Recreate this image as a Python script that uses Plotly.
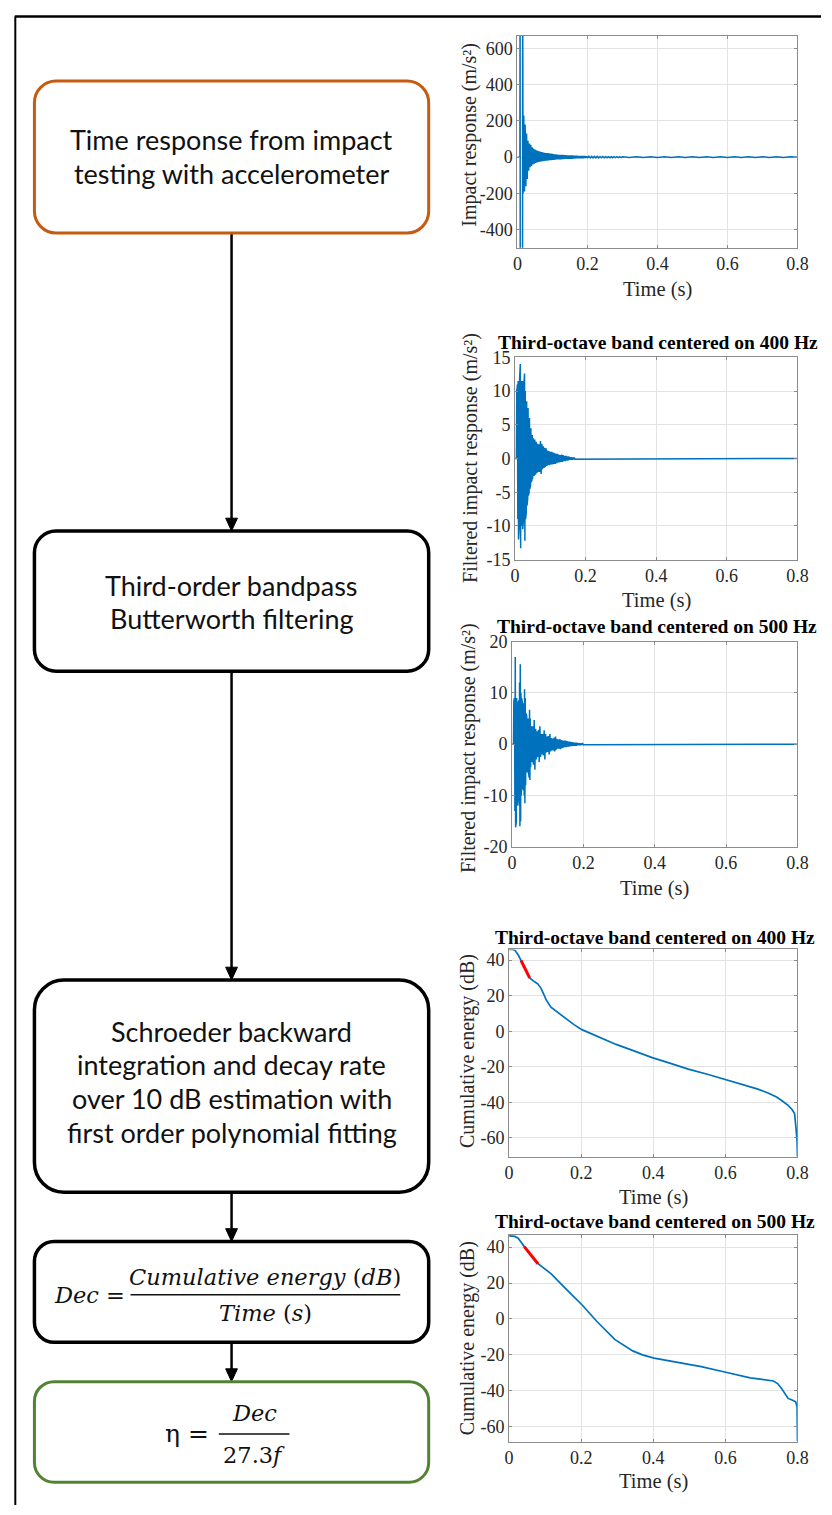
import plotly.graph_objects as go

W, H = 832, 1515

# ---------------- data ----------------
time_ticks = [0, 0.2, 0.4, 0.6, 0.8]
time_ticktext = ["0", "0.2", "0.4", "0.6", "0.8"]

# raw accelerometer response (m/s^2); the impact spike runs off the axis limits
impact_time = [
    0.000, 0.007, 0.0075, 0.008, 0.0145, 0.015, 0.0152, 0.0155,
    0.016, 0.018, 0.020, 0.022, 0.024, 0.026, 0.028, 0.030, 0.032, 0.034,
    0.036, 0.038, 0.040, 0.042, 0.044, 0.046, 0.048, 0.050, 0.052, 0.054,
    0.056, 0.058, 0.060, 0.062, 0.064, 0.066, 0.068, 0.070, 0.072, 0.074,
    0.076, 0.078, 0.080, 0.082, 0.084, 0.086, 0.088, 0.090, 0.092, 0.094,
    0.096, 0.098, 0.100, 0.102, 0.104, 0.106, 0.108, 0.110, 0.112, 0.114,
    0.116, 0.118, 0.120, 0.122, 0.124, 0.126, 0.128, 0.130, 0.132, 0.134,
    0.136, 0.138, 0.140, 0.142, 0.144, 0.146, 0.148, 0.150, 0.152, 0.154,
    0.156, 0.158, 0.160, 0.162, 0.164, 0.166, 0.168, 0.170, 0.172, 0.174,
    0.176, 0.178, 0.180, 0.182, 0.184, 0.186, 0.188, 0.190, 0.192, 0.194,
    0.196, 0.198, 0.200, 0.204, 0.208, 0.212, 0.216, 0.220, 0.224, 0.228,
    0.232, 0.236, 0.240, 0.244, 0.248, 0.252, 0.256, 0.260, 0.264, 0.268,
    0.272, 0.276, 0.280, 0.284, 0.288, 0.292, 0.296, 0.300, 0.320, 0.340,
    0.36, 0.38, 0.40, 0.42, 0.44, 0.46, 0.48, 0.50, 0.52, 0.54,
    0.56, 0.58, 0.60, 0.62, 0.64, 0.66, 0.68, 0.70, 0.72, 0.74, 0.76, 0.78, 0.80]
impact_accel = [
    0, 0, 900, -800, -800, 900, -800, 240,
    -200, 230, -190, 180, -160, 130, -120, 90, -75, 75,
    -55, 68, -48, 55, -40, 48, -36, 42, -32, 38,
    -29, 35, -27, 32, -25, 30, -23, 28, -22, 26,
    -21, 24, -20, 23, -19, 22, -18, 21, -17, 20,
    -16, 19, -15, 17, -15, 15, -14, 15, -13, 14,
    -13, 13, -12, 13, -12, 12, -11, 12, -11, 11,
    -10, 11, -10, 10, -10, 10, -9, 10, -9, 9,
    -9, 9, -8, 8, -8, 8, -7, 8, -7, 7,
    -7, 7, -6, 7, -6, 6, -6, 6, -5, 6,
    -5, 5, -5, 5, -4, 4, -4, 4, -4, 4,
    -4, 4, -3, 4, -3, 3, -3, 3, -3, 3,
    -3, 3, -2, 3, -2, 2, -2, 2, -2, 2,
    -2, 2, -2, 2, -2, 2, -2, 2, -2, 2,
    -2, 2, -2, 2, -2, 2, -2, 2, -2, 2, -2, 2, 0]

# third-octave band 400 Hz, filtered response (m/s^2)
band400_time = [
    0.000, 0.004, 0.005, 0.006, 0.007, 0.008, 0.009, 0.010, 0.011, 0.012,
    0.013, 0.014, 0.015, 0.016, 0.017, 0.018, 0.019, 0.020, 0.021, 0.022,
    0.023, 0.024, 0.025, 0.026, 0.027, 0.028, 0.029, 0.030, 0.031, 0.032,
    0.033, 0.034, 0.035, 0.036, 0.037, 0.038, 0.039, 0.040, 0.041, 0.042,
    0.043, 0.044, 0.045, 0.046, 0.047, 0.048, 0.049, 0.050, 0.052, 0.054,
    0.056, 0.058, 0.060, 0.062, 0.064, 0.066, 0.068, 0.070, 0.072, 0.074,
    0.076, 0.078, 0.080, 0.082, 0.084, 0.086, 0.088, 0.090, 0.092, 0.094,
    0.096, 0.098, 0.100, 0.102, 0.104, 0.106, 0.108, 0.110, 0.112, 0.114,
    0.116, 0.118, 0.120, 0.122, 0.124, 0.126, 0.128, 0.130, 0.132, 0.134,
    0.136, 0.138, 0.140, 0.142, 0.144, 0.146, 0.148, 0.150, 0.152, 0.154,
    0.156, 0.158, 0.160, 0.162, 0.164, 0.166, 0.168, 0.170, 0.800]
band400_accel = [
    0, 0, 10, -8.5, 11, -9, 11.5, -12, 10.5, -10,
    11.8, -11, 14, -13.3, 11.5, -10, 10.5, -9.5, 11.5, -10.5,
    10, -9, 11, -10, 12.6, -12.2, 10, -9, 9.5, -8,
    8.5, -7, 8, -6, 7.5, -5.5, 7, -5, 6, -4.5,
    5, -4, 4.5, -3.5, 4, -3.2, 3.5, -3, 3, -2.6,
    2.8, -2.4, 2.5, -2.2, 2.2, -2, 2.1, -2, 2.6, -2.3,
    2.2, -1.6, 1.8, -1.4, 1.6, -1.3, 1.5, -1.1, 1.2, -1.0,
    1.1, -1.0, 1.0, -0.9, 1.0, -0.9, 0.9, -0.8, 0.8, -0.8,
    0.7, -0.7, 0.7, -0.6, 0.6, -0.6, 0.5, -0.5, 0.6, -0.5,
    0.5, -0.4, 0.4, -0.4, 0.4, -0.3, 0.3, -0.3, 0.3, -0.2,
    0.2, -0.2, 0.2, -0.2, 0.15, -0.15, 0.15, -0.1, 0]

# third-octave band 500 Hz, filtered response (m/s^2)
band500_time = [
    0.000, 0.004, 0.005, 0.006, 0.007, 0.008, 0.009, 0.010, 0.011, 0.012,
    0.013, 0.014, 0.015, 0.016, 0.017, 0.018, 0.019, 0.020, 0.021, 0.022,
    0.023, 0.024, 0.025, 0.026, 0.027, 0.028, 0.029, 0.030, 0.031, 0.032,
    0.033, 0.034, 0.035, 0.036, 0.037, 0.038, 0.039, 0.040, 0.041, 0.042,
    0.043, 0.044, 0.045, 0.046, 0.047, 0.048, 0.049, 0.050, 0.051, 0.052,
    0.054, 0.056, 0.058, 0.060, 0.062, 0.064, 0.066, 0.068, 0.070, 0.072,
    0.074, 0.076, 0.078, 0.080, 0.082, 0.084, 0.086, 0.088, 0.090, 0.092,
    0.094, 0.096, 0.098, 0.100, 0.102, 0.104, 0.106, 0.108, 0.110, 0.112,
    0.114, 0.116, 0.118, 0.120, 0.122, 0.124, 0.126, 0.128, 0.130, 0.132,
    0.134, 0.136, 0.138, 0.140, 0.142, 0.144, 0.146, 0.148, 0.150, 0.152,
    0.154, 0.156, 0.158, 0.160, 0.162, 0.164, 0.166, 0.168, 0.170, 0.172,
    0.174, 0.176, 0.178, 0.180, 0.182, 0.184, 0.186, 0.188, 0.190, 0.192,
    0.194, 0.196, 0.198, 0.200, 0.800]
band500_accel = [
    0, 0, 8.5, -12.5, 9, -13, 17, -16.2, 16.5, -15,
    9, -12, 8.5, -11, 8, -10, 8.5, -12, 12, -16,
    15.6, -15, 10, -10, 9, -9, 8, -8.5, 7.5, -9,
    8, -10, 10.7, -11.5, 9, -8, 6, -6, 5.5, -5.5,
    5, -5, 5, -5.5, 5.5, -6.5, 6.7, -7, 5, -4.5,
    3.5, -3.5, 3.5, -4, 4.7, -5, 3, -3, 2.5, -2.5,
    2.8, -3.5, 3.5, -2.5, 2, -2, 2, -2.2, 2.7, -3,
    2, -1.6, 1.5, -1.5, 1.6, -2, 2, -1.4, 1.2, -1.2,
    1.1, -1.2, 1.3, -1.4, 1.5, -1.1, 1.0, -0.9, 0.9, -0.9,
    1.0, -1.0, 0.8, -0.8, 0.7, -0.7, 0.7, -0.6, 0.7, -0.6,
    0.6, -0.5, 0.5, -0.5, 0.5, -0.4, 0.4, -0.4, 0.4, -0.3,
    0.3, -0.3, 0.3, -0.3, 0.3, -0.2, 0.2, -0.2, 0.2, -0.2,
    0.15, -0.15, 0.1, -0.1, 0]

# Schroeder backward-integrated energy (dB) and 10 dB linear fit, 400 Hz band
energy400_time = [0.000, 0.010, 0.016, 0.025, 0.033, 0.045, 0.057, 0.071, 0.080, 0.089,
                  0.103, 0.116, 0.143, 0.180, 0.202, 0.250, 0.297, 0.350, 0.397, 0.450,
                  0.497, 0.550, 0.597, 0.650, 0.688, 0.720, 0.742, 0.760, 0.774, 0.785,
                  0.792, 0.796, 0.799, 0.800]
energy400_db = [46, 46, 45.5, 43, 39.8, 35, 30, 27.8, 26.5, 24,
                17.6, 13.5, 9.3, 3.7, 0.9, -3.5, -7.4, -11.3, -14.8, -18.2,
                -21.3, -24.2, -26.9, -29.8, -32.4, -34.8, -37, -39.5, -41.7, -44,
                -46.3, -54.6, -62, -70.5]
fit400_time = [0.033, 0.057]
fit400_db = [39.8, 30.0]

# Schroeder backward-integrated energy (dB) and 10 dB linear fit, 500 Hz band
energy500_time = [0.000, 0.016, 0.025, 0.033, 0.042, 0.060, 0.080, 0.116, 0.161, 0.202,
                  0.243, 0.293, 0.343, 0.370, 0.402, 0.461, 0.533, 0.601, 0.669, 0.733,
                  0.745, 0.756, 0.765, 0.774, 0.785, 0.795, 0.799, 0.800]
energy500_db = [46.3, 46, 45, 42.7, 40.3, 35.5, 30.8, 25.3, 16.1, 7.9,
                -1.3, -11.4, -17.8, -20, -21.8, -23.8, -26.6, -29.7, -32.8, -34.6,
                -36, -38.8, -41.5, -44.3, -45.2, -46.2, -49, -68]
fit500_time = [0.042, 0.080]
fit500_db = [40.3, 30.8]

# ---------------- styling ----------------
BLUE = "#0072BD"
RED = "#FF0000"
FRAME = "#8c8c8c"
GRID = "#e3e3e3"
TXT = "#262626"
SERIF = "Liberation Serif"


def fx(px):
    return px / W


def fy(py):
    return 1 - py / H


# panel layout: axes box in page pixels (left, top, right, bottom)
panels = [
    dict(box=(522.5, 26, 808, 241), yrange=[-500, 670], yticks=[-400, -200, 0, 200, 400, 600],
         ytitle="Impact response (m/s²)", ytitle_xy=(474, 126.5), xtitle_y=283, title=None),
    dict(box=(520, 352, 808, 557), yrange=[-15, 15], yticks=[-15, -10, -5, 0, 5, 10, 15],
         ytitle="Filtered impact response (m/s²)", ytitle_xy=(474, 454), xtitle_y=598,
         title=("Third-octave band centered on 400 Hz", 337)),
    dict(box=(517, 640, 808, 848), yrange=[-20, 20], yticks=[-20, -10, 0, 10, 20],
         ytitle="Filtered impact response (m/s²)", ytitle_xy=(472, 748), xtitle_y=890,
         title=("Third-octave band centered on 500 Hz", 625)),
    dict(box=(514, 952, 808, 1162), yrange=[-70.5, 46], yticks=[-60, -40, -20, 0, 20, 40],
         ytitle="Cumulative energy (dB)", ytitle_xy=(471, 1055), xtitle_y=1203,
         title=("Third-octave band centered on 400 Hz", 940)),
    dict(box=(514, 1241, 808, 1451), yrange=[-68.5, 47], yticks=[-60, -40, -20, 0, 20, 40],
         ytitle="Cumulative energy (dB)", ytitle_xy=(471, 1346), xtitle_y=1491,
         title=("Third-octave band centered on 500 Hz", 1228)),
]

series = [
    [(impact_time, impact_accel, BLUE, 1.5)],
    [(band400_time, band400_accel, BLUE, 1.5)],
    [(band500_time, band500_accel, BLUE, 1.5)],
    [(energy400_time, energy400_db, BLUE, 1.7), (fit400_time, fit400_db, RED, 3)],
    [(energy500_time, energy500_db, BLUE, 1.7), (fit500_time, fit500_db, RED, 3)],
]

fig = go.Figure()
annotations = []
layout_axes = {}

for i, (p, traces) in enumerate(zip(panels, series), start=1):
    xa = "x" if i == 1 else f"x{i}"
    ya = "y" if i == 1 else f"y{i}"
    for tx, ty, col, lw in traces:
        fig.add_trace(go.Scatter(x=tx, y=ty, mode="lines", xaxis=xa, yaxis=ya,
                                 line=dict(color=col, width=lw), showlegend=False,
                                 hoverinfo="skip"))
    x0, y0, x1, y1 = p["box"]
    common = dict(showline=True, linecolor=FRAME, linewidth=1, mirror="ticks",
                  ticks="inside", ticklen=3, tickcolor=FRAME, showgrid=True,
                  gridcolor=GRID, gridwidth=1, zeroline=False,
                  tickfont=dict(family=SERIF, size=18, color=TXT))
    layout_axes[f"xaxis{'' if i == 1 else i}"] = dict(
        domain=[fx(x0), fx(x1)], anchor=ya, range=[0, 0.8], tickvals=time_ticks,
        ticktext=time_ticktext, **common)
    layout_axes[f"yaxis{'' if i == 1 else i}"] = dict(
        domain=[fy(y1), fy(y0)], anchor=xa, range=p["yrange"], tickvals=p["yticks"],
        ticktext=[str(v) for v in p["yticks"]], **common)

    tx_, ty_ = p["ytitle_xy"]
    annotations.append(dict(x=fx(tx_), y=fy(ty_), xref="paper", yref="paper",
                            text=p["ytitle"], textangle=-90, showarrow=False,
                            xanchor="center", yanchor="middle",
                            font=dict(family=SERIF, size=20, color=TXT)))
    annotations.append(dict(x=fx((x0 + x1) / 2), y=fy(p["xtitle_y"]), xref="paper",
                            yref="paper", text="Time (s)", showarrow=False,
                            xanchor="center", yanchor="middle",
                            font=dict(family=SERIF, size=20.5, color=TXT)))
    if p["title"]:
        ttl, tyy = p["title"]
        annotations.append(dict(x=fx((x0 + x1) / 2 + 2), y=fy(tyy), xref="paper",
                                yref="paper", text=f"<b>{ttl}</b>", showarrow=False,
                                xanchor="center", yanchor="middle",
                                font=dict(family=SERIF, size=19.5, color="#000000")))

# ---------------- flowchart ----------------
shapes = []


def pt(x, y):
    return f"{fx(x):.5f},{fy(y):.5f}"


def rounded_box(x0, y0, x1, y1, r, color, width):
    k = 0.5523 * r
    d = (f"M{pt(x0 + r, y0)} L{pt(x1 - r, y0)} "
         f"C{pt(x1 - r + k, y0)} {pt(x1, y0 + r - k)} {pt(x1, y0 + r)} "
         f"L{pt(x1, y1 - r)} "
         f"C{pt(x1, y1 - r + k)} {pt(x1 - r + k, y1)} {pt(x1 - r, y1)} "
         f"L{pt(x0 + r, y1)} "
         f"C{pt(x0 + r - k, y1)} {pt(x0, y1 - r + k)} {pt(x0, y1 - r)} "
         f"L{pt(x0, y0 + r)} "
         f"C{pt(x0, y0 + r - k)} {pt(x0 + r - k, y0)} {pt(x0 + r, y0)} Z")
    shapes.append(dict(type="path", path=d, xref="paper", yref="paper",
                       line=dict(color=color, width=width), fillcolor="white"))


def arrow(x, y_start, y_tip):
    head_h, head_w = 13, 12
    shapes.append(dict(type="line", xref="paper", yref="paper",
                       x0=fx(x), x1=fx(x), y0=fy(y_start), y1=fy(y_tip - head_h + 1),
                       line=dict(color="black", width=2.5)))
    d = (f"M{pt(x - head_w / 2, y_tip - head_h)} L{pt(x + head_w / 2, y_tip - head_h)} "
         f"L{pt(x, y_tip)} Z")
    shapes.append(dict(type="path", path=d, xref="paper", yref="paper",
                       line=dict(color="black", width=1), fillcolor="black"))


# outer frame (top and left edges)
shapes.append(dict(type="line", xref="paper", yref="paper", x0=fx(10), x1=1,
                   y0=fy(6.5), y1=fy(6.5), line=dict(color="black", width=2.5)))
shapes.append(dict(type="line", xref="paper", yref="paper", x0=fx(10.5), x1=fx(10.5),
                   y0=fy(6.5), y1=0, line=dict(color="black", width=2)))

CX = 231
arrow(CX, 226, 528)
arrow(CX, 670, 983)
arrow(CX, 1198, 1248)
arrow(CX, 1350, 1390)

rounded_box(30, 72, 432, 226, 22, "#C55A11", 3)
rounded_box(30, 528, 432, 670, 22, "black", 3.5)
rounded_box(30, 983, 432, 1198, 30, "black", 3.5)
rounded_box(30, 1248, 432, 1350, 20, "black", 3.5)
rounded_box(30, 1390, 432, 1492, 20, "#548235", 3)

BOX_FONT = dict(family="Lato", size=27, color="#111111")
box_lines = [
    ("Time response from impact", 131), ("testing with accelerometer", 166),
    ("Third-order bandpass", 583), ("Butterworth filtering", 617),
    ("Schroeder backward", 1035), ("integration and decay rate", 1069),
    ("over 10 dB estimation with", 1103), ("first order polynomial fitting", 1138),
]
for txt, yy in box_lines:
    annotations.append(dict(x=fx(CX), y=fy(yy), xref="paper", yref="paper", text=txt,
                            showarrow=False, xanchor="center", yanchor="middle",
                            font=BOX_FONT))

MATH = dict(family="DejaVu Serif", size=22.5, color="#111111")
# Dec = Cumulative energy (dB) / Time (s)   and   eta = Dec / 27.3 f
formula = [
    dict(x=fx(86), y=fy(1302), text="<i>Dec</i> =", font=MATH),
    dict(x=fx(265.5), y=fy(1284), text="<i>Cumulative energy</i> (<i>dB</i>)", font=MATH),
    dict(x=fx(265.5), y=fy(1320), text="<i>Time</i> (<i>s</i>)", font=MATH),
    dict(x=fx(186), y=fy(1443), text="η =", font=dict(family="DejaVu Serif", size=25,
                                                       color="#111111")),
    dict(x=fx(254), y=fy(1422), text="<i>Dec</i>", font=MATH),
    dict(x=fx(254), y=fy(1464), text="27.3<i>f</i>", font=MATH),
]
for a in formula:
    a.update(xref="paper", yref="paper", showarrow=False, xanchor="center",
             yanchor="middle")
annotations += formula

shapes.append(dict(type="line", xref="paper", yref="paper", x0=fx(128), x1=fx(403),
                   y0=fy(1302), y1=fy(1302), line=dict(color="#111111", width=1.5)))
shapes.append(dict(type="line", xref="paper", yref="paper", x0=fx(218), x1=fx(290),
                   y0=fy(1443), y1=fy(1443), line=dict(color="#111111", width=1.5)))

fig.update_layout(
    width=W, height=H, margin=dict(l=0, r=0, t=0, b=0),
    paper_bgcolor="white", plot_bgcolor="white",
    showlegend=False, annotations=annotations, shapes=shapes,
    **layout_axes,
)

fig.write_html("out.html")
